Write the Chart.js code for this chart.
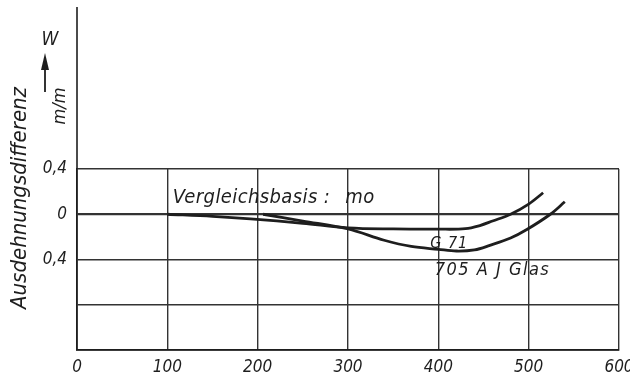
<!DOCTYPE html>
<html>
<head>
<meta charset="utf-8">
<script src="https://cdn.jsdelivr.net/npm/chart.js"></script>
<style>
  body { margin: 0; background: #fff; }
  canvas { display: block; }
</style>
</head>
<body>
<canvas id="myChart" width="630" height="376"></canvas>
<script>
// Temperatur (x) und Ausdehnungsdifferenz (y)
var g71Temp = [100, 150, 192, 250, 300, 350, 400, 430, 446, 460, 480, 500, 516];
var g71Diff = [0, -0.018, -0.04, -0.08, -0.12, -0.13, -0.132, -0.128, -0.1, -0.06, 0, 0.09, 0.19];

var glasTemp = [206, 250, 300, 340, 370, 400, 420, 440, 457, 480, 498, 524, 540];
var glasDiff = [0, -0.06, -0.13, -0.23, -0.285, -0.31, -0.325, -0.315, -0.275, -0.21, -0.135, 0, 0.11];

var xTicks = [0, 100, 200, 300, 400, 500, 600];
var yTicks = [-1.2, -0.8, -0.4, 0, 0.4];
var yTickLabels = {'0.4': '0,4', '0': '0', '-0.4': '0,4'};

var FONT = "'DejaVu Sans Condensed', 'DejaVu Sans', sans-serif";
var INK = '#1e1e1e';

function toPoints(xs, ys) {
  return xs.map(function (x, i) { return {x: x, y: ys[i]}; });
}

// Beschriftungen, die Chart.js nicht selbst zeichnet
var labelsPlugin = {
  id: 'labels',
  afterDraw: function (chart) {
    var c = chart.ctx;
    var xs = chart.scales.x, ys = chart.scales.y;
    var area = chart.chartArea;
    c.save();
    c.fillStyle = INK;
    c.strokeStyle = INK;

    // verlaengerte Ordinate
    c.lineWidth = 1.6;
    c.beginPath();
    c.moveTo(area.left, area.top);
    c.lineTo(area.left, 7);
    c.stroke();

    c.textBaseline = 'alphabetic';
    c.font = 'italic 20px ' + FONT;
    c.letterSpacing = '0.4px';
    c.fillText('Vergleichsbasis :', xs.getPixelForValue(106), ys.getPixelForValue(0.1));
    c.fillText('mo', xs.getPixelForValue(297), ys.getPixelForValue(0.1));

    c.font = 'italic 16px ' + FONT;
    c.letterSpacing = '1px';
    c.fillText('G 71', xs.getPixelForValue(391), ys.getPixelForValue(-0.3));
    c.font = 'italic 18px ' + FONT;
    c.letterSpacing = '1.5px';
    c.fillText('705 A J Glas', xs.getPixelForValue(396), ys.getPixelForValue(-0.54));
    c.letterSpacing = '0px';

    // Achsentitel
    c.save();
    c.translate(20, 198);
    c.rotate(-Math.PI / 2);
    c.font = 'italic 22px ' + FONT;
    c.textAlign = 'center';
    c.textBaseline = 'middle';
    c.fillText('Ausdehnungsdifferenz', 0, 0);
    c.restore();

    c.save();
    c.translate(60, 106);
    c.rotate(-Math.PI / 2);
    c.font = 'italic 18px ' + FONT;
    c.textAlign = 'center';
    c.textBaseline = 'middle';
    c.fillText('m/m', 0, 0);
    c.restore();

    c.font = 'italic 19px ' + FONT;
    c.textAlign = 'center';
    c.textBaseline = 'middle';
    c.fillText('W', 50, 40);

    // Pfeil
    c.lineWidth = 1.8;
    c.beginPath();
    c.moveTo(45, 92);
    c.lineTo(45, 64);
    c.stroke();
    c.beginPath();
    c.moveTo(45, 53);
    c.lineTo(41, 70);
    c.lineTo(49, 70);
    c.closePath();
    c.fill();

    c.restore();
  }
};

var ctx = document.getElementById('myChart');
var myChart = new Chart(ctx, {
  type: 'line',
  data: {
    datasets: [{
      label: 'G 71',
      data: toPoints(g71Temp, g71Diff),
      borderColor: INK,
      borderWidth: 2.8,
      pointRadius: 0,
      tension: 0.35
    }, {
      label: '705 A J Glas',
      data: toPoints(glasTemp, glasDiff),
      borderColor: INK,
      borderWidth: 2.8,
      pointRadius: 0,
      tension: 0.35
    }]
  },
  options: {
    responsive: false,
    animation: false,
    layout: { padding: { top: 169, right: 11, left: 0, bottom: 0 } },
    plugins: {
      legend: { display: false },
      tooltip: { enabled: false }
    },
    scales: {
      x: {
        type: 'linear',
        min: 0,
        max: 600,
        afterBuildTicks: function (scale) {
          scale.ticks = xTicks.map(function (v) { return {value: v}; });
        },
        afterFit: function (scale) {
          scale.height = 26;
          scale.paddingLeft = 0;
          scale.paddingRight = 0;
        },
        grid: { color: '#333', lineWidth: 1.4, drawTicks: false },
        border: { color: INK, width: 1.8 },
        ticks: {
          padding: 7,
          color: INK,
          font: { family: FONT, size: 17, style: 'italic' },
          maxRotation: 0
        }
      },
      y: {
        min: -1.2,
        max: 0.4,
        afterBuildTicks: function (scale) {
          scale.ticks = yTicks.map(function (v) { return {value: v}; });
        },
        afterFit: function (scale) {
          scale.width = 77;
          scale.paddingTop = 0;
          scale.paddingBottom = 0;
        },
        grid: {
          color: '#333',
          drawTicks: false,
          lineWidth: function (c) { return c.tick && c.tick.value === 0 ? 2.2 : 1.4; }
        },
        border: { color: INK, width: 1.8 },
        ticks: {
          padding: 10,
          color: INK,
          font: { family: FONT, size: 17, style: 'italic' },
          callback: function (v) {
            var k = String(Math.round(v * 10) / 10);
            return yTickLabels[k] || '';
          }
        }
      }
    }
  },
  plugins: [labelsPlugin]
});
</script>
</body>
</html>
